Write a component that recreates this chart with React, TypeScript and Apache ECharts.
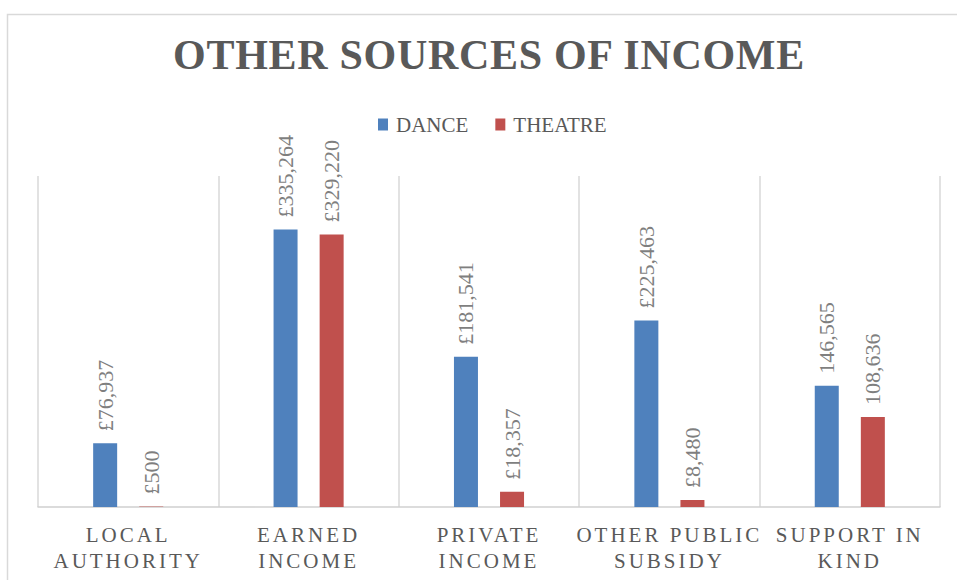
import React, { useEffect, useRef } from "react";
import * as echarts from "echarts";

const titleText = "OTHER SOURCES OF INCOME";
const categories = [
  "LOCAL\nAUTHORITY",
  "EARNED\nINCOME",
  "PRIVATE\nINCOME",
  "OTHER PUBLIC\nSUBSIDY",
  "SUPPORT IN\nKIND",
];
const seriesNames = ["DANCE", "THEATRE"];
const danceValues = [76937, 335264, 181541, 225463, 146565];
const theatreValues = [500, 329220, 18357, 8480, 108636];
const labelPrefixes = ["£", "£", "£", "£", ""];

const FONT = "'Liberation Serif', 'Times New Roman', serif";

function fmt(v: number, i: number) {
  return labelPrefixes[i] + v.toLocaleString("en-GB");
}

export default function App() {
  const ref = useRef<HTMLDivElement>(null);

  useEffect(() => {
    if (!ref.current) return;
    const chart = echarts.init(ref.current, undefined, { renderer: "svg" });

    const labelCfg = {
      show: true,
      position: "top" as const,
      distance: 12,
      rotate: 90,
      align: "left" as const,
      verticalAlign: "middle" as const,
      fontFamily: FONT,
      fontSize: 22,
      color: "#7f7f7f",
      formatter: (p: any) => fmt(p.value, p.dataIndex),
    };

    chart.setOption({
      animation: false,
      backgroundColor: "#ffffff",
      title: {
        text: titleText,
        left: 489,
        top: 34,
        padding: 0,
        textAlign: "center",
        textStyle: {
          fontFamily: FONT,
          fontSize: 42,
          fontWeight: "bold",
          color: "#595959",
        },
      },
      legend: {
        data: seriesNames,
        left: 378,
        top: 114,
        padding: 0,
        itemWidth: 10,
        itemHeight: 12,
        itemGap: 27,
        icon: "rect",
        textStyle: { fontFamily: FONT, fontSize: 21, color: "#595959", padding: [0, 0, 0, 3] },
      },
      grid: { left: 38, right: 17, top: 176, bottom: 73, containLabel: false },
      xAxis: {
        type: "category",
        data: categories,
        boundaryGap: true,
        axisLine: { show: true, lineStyle: { color: "#d0d0d0", width: 1.5 } },
        axisTick: { show: false },
        splitLine: { show: true, lineStyle: { color: "#d9d9d9", width: 1.5 } },
        axisLabel: {
          fontFamily: FONT,
          fontSize: 21,
          lineHeight: 26,
          color: "#595959",
          margin: 15,
          interval: 0,
        },
      },
      yAxis: {
        type: "value",
        min: 0,
        max: 400000,
        show: false,
        splitLine: { show: false },
      },
      series: [
        {
          name: seriesNames[0],
          type: "bar",
          data: danceValues,
          barWidth: 24,
          barGap: "92%",
          itemStyle: { color: "#4F81BD" },
          label: labelCfg,
        },
        {
          name: seriesNames[1],
          type: "bar",
          data: theatreValues,
          barWidth: 24,
          barGap: "92%",
          itemStyle: { color: "#C0504D" },
          label: labelCfg,
        },
      ],
      graphic: [
        {
          type: "rect",
          left: 5,
          top: 12,
          shape: { x: 0, y: 0, width: 1200, height: 1000 },
          style: { fill: "none", stroke: "#d9d9d9", lineWidth: 1.5 },
          silent: true,
          z: -1,
        },
      ],
    });

    const catLines = new Set<string>();
    categories.forEach((c) => c.split("\n").forEach((l) => catLines.add(l)));

    const applySpacing = () => {
      const root = ref.current;
      if (!root) return;
      root.querySelectorAll("text").forEach((t) => {
        const s = (t.textContent || "").trim();
        const el = t as unknown as HTMLElement;
        if (s === titleText) el.style.letterSpacing = "0.7px";
        else if (catLines.has(s)) el.style.letterSpacing = "3px";
      });
    };
    chart.on("finished", applySpacing);
    applySpacing();
    const tm = setTimeout(applySpacing, 50);

    return () => {
      clearTimeout(tm);
      chart.dispose();
    };
  }, []);

  return (
    <div
      ref={ref}
      style={{ position: "fixed", left: 0, top: 0, width: 957, height: 580, background: "#fff" }}
    />
  );
}
